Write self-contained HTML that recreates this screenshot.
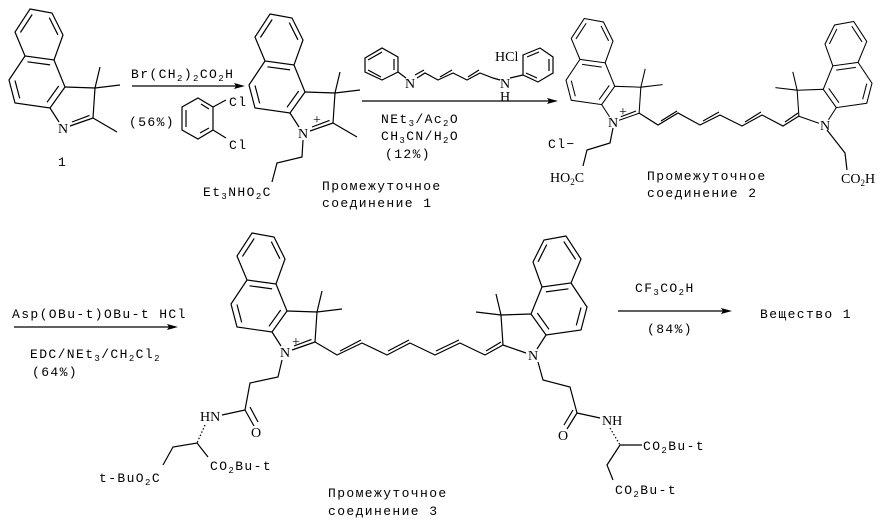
<!DOCTYPE html>
<html><head><meta charset="utf-8"><style>
html,body{margin:0;padding:0;background:#fff;}
svg{display:block;}
text{font-family:"Liberation Mono",monospace;font-size:13px;fill:#000;letter-spacing:1.4px;}
.s{font-family:"Liberation Serif",serif;font-size:14px;letter-spacing:0;}
.b{font-size:9px;}
</style></head><body>
<svg width="886" height="522" viewBox="0 0 886 522" xmlns="http://www.w3.org/2000/svg">
<defs>
<g id="u" fill="none" stroke="#000" stroke-width="1.2">
<polygon points="-33,-119 -11,-115 0,-93 -9,-68 -38,-72 -48,-96"/>
<polyline points="-38,-72 -48,-25 -54,-48 -38,-72" stroke="none"/>
<polyline points="-38,-72 -54,-48 -48,-25 -13,-20 2,-41 -9,-68"/>
<polyline points="2,-41 32,-40 30,-10"/>
<line x1="-13" y1="-20" x2="-4" y2="-6"/>
<line x1="32" y1="-40" x2="37" y2="-61"/>
<line x1="32" y1="-40" x2="57" y2="-43"/>
<line x1="-42.6" y1="-95.5" x2="-30.8" y2="-113.5"/>
<line x1="-13.7" y1="-110.4" x2="-5.1" y2="-93.2"/>
<line x1="-35.5" y1="-66.2" x2="-12.9" y2="-63.1"/>
<line x1="-4.3" y1="-42" x2="-16" y2="-25.7"/>
<line x1="-43.3" y1="-29.6" x2="-48" y2="-47.5"/>
</g>
<g id="cn" fill="none" stroke="#000" stroke-width="1.2">
<line x1="7" y1="-2" x2="30" y2="-10"/>
<line x1="9" y1="-6" x2="26.5" y2="-12.6"/>
</g>
<g id="cs" fill="none" stroke="#000" stroke-width="1.2">
<line x1="7" y1="-2" x2="30" y2="-10"/>
</g>
</defs>
<g stroke="#000" fill="none" stroke-width="1.2">
<!-- compound 1 -->
<use href="#u" transform="translate(63,128)"/>
<use href="#cn" transform="translate(63,128)"/>
<line x1="93" y1="118" x2="117" y2="132"/>
<!-- int 1 -->
<use href="#u" transform="translate(303,133)"/>
<use href="#cn" transform="translate(303,133)"/>
<line x1="333" y1="123" x2="357" y2="137"/>
<polyline points="303,140 302,157 277,163 272,182"/>
<!-- compound 2 -->
<use href="#u" transform="translate(613,122) scale(0.87)"/>
<use href="#cn" transform="translate(613,122) scale(0.87)"/>
<use href="#u" transform="translate(825,125) scale(-0.87,0.87)"/>
<use href="#cs" transform="translate(825,125) scale(-0.87,0.87)"/>
<polyline points="639,113 658,125 678,113 700,125 720,115 742,126 762,115 783,126 799,116"/>
<line x1="661" y1="121" x2="677" y2="111"/>
<line x1="703" y1="121" x2="719" y2="112"/>
<line x1="745" y1="122" x2="761" y2="112"/>
<line x1="785" y1="122" x2="798" y2="113"/>
<polyline points="613,128 610,143 587,150 583,166"/>
<polyline points="827,130 845,153 847,170"/>
<!-- compound 3 -->
<use href="#u" transform="translate(285,352)"/>
<use href="#cn" transform="translate(285,352)"/>
<use href="#u" transform="translate(533,355) scale(-1,1)"/>
<use href="#cs" transform="translate(533,355) scale(-1,1)"/>
<polyline points="315,342 337,355 362,343 387,355 410,343 435,355 460,343 485,355 503,345"/>
<line x1="340" y1="351" x2="361" y2="340"/>
<line x1="388" y1="351" x2="409" y2="340"/>
<line x1="436" y1="351" x2="459" y2="340"/>
<line x1="486" y1="351" x2="501" y2="342"/>
<polyline points="282,360 278,377 250,383 245,410"/>
<line x1="245" y1="410" x2="222" y2="415"/>
<line x1="245" y1="410" x2="254" y2="426"/>
<line x1="250" y1="407" x2="258" y2="422"/>
<line x1="205" y1="425" x2="197" y2="443" stroke-dasharray="1.5,2"/>
<polyline points="163,465 173,447 197,443 208,457"/>
<polyline points="538,362 543,380 570,387 577,413"/>
<line x1="577" y1="413" x2="600" y2="418"/>
<line x1="577" y1="413" x2="567" y2="429"/>
<line x1="573" y1="410" x2="564" y2="425"/>
<line x1="610" y1="428" x2="620" y2="445" stroke-dasharray="1.5,2"/>
<line x1="620" y1="445" x2="642" y2="445"/>
<polyline points="620,445 607,465 613,480"/>
<!-- dichlorobenzene -->
<polygon points="198,98 213,107 213,130 198,139 182,130 182,107"/>
<line x1="201" y1="104" x2="209" y2="109"/>
<line x1="209" y1="128" x2="200" y2="133"/>
<line x1="186" y1="110" x2="186" y2="127"/>
<line x1="213" y1="107" x2="226" y2="100"/>
<line x1="213" y1="130" x2="226" y2="138"/>
<!-- reagent -->
<polygon points="365,58 382,48 398,57 398,72 382,80 365,72"/>
<line x1="368" y1="60" x2="382" y2="52"/>
<line x1="394" y1="59" x2="394" y2="70"/>
<line x1="368" y1="70" x2="381" y2="77"/>
<line x1="398" y1="72" x2="406" y2="78"/>
<polyline points="417,78 425,73 438,80 453,73 467,80 480,73 493,78 500,80"/>
<line x1="415" y1="75" x2="424" y2="70"/>
<line x1="440" y1="77" x2="452" y2="70"/>
<line x1="468" y1="77" x2="479" y2="70"/>
<polygon points="523,55 540,48 553,57 553,73 538,82 523,75"/>
<line x1="527" y1="57" x2="539" y2="52"/>
<line x1="549" y1="59" x2="549" y2="71"/>
<line x1="526" y1="73" x2="537" y2="78"/>
<line x1="510" y1="78" x2="523" y2="75"/>
<!-- arrows -->
<line x1="132" y1="86" x2="240" y2="86"/>
<line x1="362" y1="101" x2="553" y2="101"/>
<line x1="14" y1="327" x2="173" y2="327"/>
<line x1="618" y1="311" x2="727" y2="311"/>
</g>
<g fill="#000">
<polygon points="245,86 234,83 236,86 234,89"/>
<polygon points="558,101 547,98 549,101 547,104"/>
<polygon points="178,327 167,324 169,327 167,330"/>
<polygon points="732,311 721,308 723,311 721,314"/>
</g>
<g>
<text class="s" x="63" y="133" text-anchor="middle">N</text>
<text class="s" x="303" y="138" text-anchor="middle">N</text>
<text class="s" x="313" y="124" font-size="11">+</text>
<text class="s" x="613" y="127" text-anchor="middle">N</text>
<text class="s" x="619" y="116" font-size="11">+</text>
<text class="s" x="825" y="130" text-anchor="middle">N</text>
<text class="s" x="285" y="357" text-anchor="middle">N</text>
<text class="s" x="292" y="346" font-size="11">+</text>
<text class="s" x="533" y="360" text-anchor="middle">N</text>
<text class="s" x="410" y="88" text-anchor="middle">N</text>
<text class="s" x="505" y="88" text-anchor="middle">N</text>
<text class="s" x="505" y="101" text-anchor="middle">H</text>
<text class="s" x="495" y="61" font-size="13">HCl</text>
<text class="s" x="200" y="421" font-size="14">HN</text>
<text class="s" x="251" y="437" font-size="14">O</text>
<text class="s" x="558" y="440" font-size="14">O</text>
<text class="s" x="602" y="425" font-size="14">NH</text>
<text class="s" x="550" y="182" font-size="13">HO<tspan class="b" dy="3">2</tspan><tspan dy="-3">C</tspan></text>
<text class="s" x="841" y="183" font-size="13">CO<tspan class="b" dy="3">2</tspan><tspan dy="-3">H</tspan></text>
<text x="58" y="166">1</text>
<text x="131" y="78">Br(CH<tspan class="b" dy="3">2</tspan><tspan dy="-3">)</tspan><tspan class="b" dy="3">2</tspan><tspan dy="-3">CO</tspan><tspan class="b" dy="3">2</tspan><tspan dy="-3">H</tspan></text>
<text x="129" y="126">(56%)</text>
<text x="229" y="106">Cl</text>
<text x="229" y="149">Cl</text>
<text x="203" y="196">Et<tspan class="b" dy="3">3</tspan><tspan dy="-3">NHO</tspan><tspan class="b" dy="3">2</tspan><tspan dy="-3">C</tspan></text>
<text x="322" y="190">Промежуточное</text>
<text x="322" y="207">соединение 1</text>
<text x="381" y="123">NEt<tspan class="b" dy="3">3</tspan><tspan dy="-3">/Ac</tspan><tspan class="b" dy="3">2</tspan><tspan dy="-3">O</tspan></text>
<text x="381" y="140">CH<tspan class="b" dy="3">3</tspan><tspan dy="-3">CN/H</tspan><tspan class="b" dy="3">2</tspan><tspan dy="-3">O</tspan></text>
<text x="385" y="158">(12%)</text>
<text x="548" y="148">Cl−</text>
<text x="647" y="180">Промежуточное</text>
<text x="647" y="197">соединение 2</text>
<text x="12" y="318">Asp(OBu-t)OBu-t HCl</text>
<text x="30" y="358">EDC/NEt<tspan class="b" dy="3">3</tspan><tspan dy="-3">/CH</tspan><tspan class="b" dy="3">2</tspan><tspan dy="-3">Cl</tspan><tspan class="b" dy="3">2</tspan></text>
<text x="32" y="376">(64%)</text>
<text x="99" y="482">t-BuO<tspan class="b" dy="3">2</tspan><tspan dy="-3">C</tspan></text>
<text x="210" y="470">CO<tspan class="b" dy="3">2</tspan><tspan dy="-3">Bu-t</tspan></text>
<text x="643" y="450">CO<tspan class="b" dy="3">2</tspan><tspan dy="-3">Bu-t</tspan></text>
<text x="615" y="494">CO<tspan class="b" dy="3">2</tspan><tspan dy="-3">Bu-t</tspan></text>
<text x="328" y="497">Промежуточное</text>
<text x="328" y="515">соединение 3</text>
<text x="635" y="292">CF<tspan class="b" dy="3">3</tspan><tspan dy="-3">CO</tspan><tspan class="b" dy="3">2</tspan><tspan dy="-3">H</tspan></text>
<text x="647" y="333">(84%)</text>
<text x="760" y="318">Вещество 1</text>
</g>
</svg>
</body></html>
